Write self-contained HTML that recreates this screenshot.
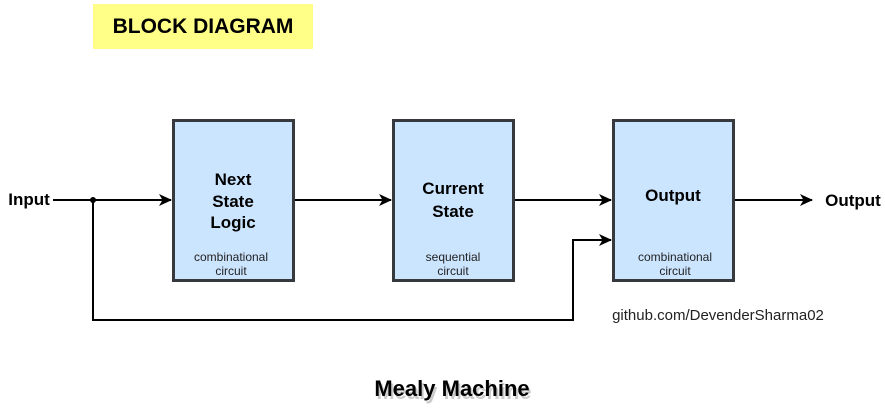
<!DOCTYPE html>
<html><head><meta charset="utf-8"><style>
body{margin:0;background:#fff;}
svg text{font-family:"Liberation Sans",Arial,sans-serif;}
</style></head><body>
<svg width="885" height="413" viewBox="0 0 885 413" xmlns="http://www.w3.org/2000/svg">
<defs><marker id="a" markerWidth="13" markerHeight="12" refX="12" refY="6" orient="auto" markerUnits="userSpaceOnUse"><path d="M0,0 L13,6 L0,12 L3.5,6 z" fill="#000"/></marker></defs>
<rect x="93" y="4" width="220" height="45" fill="#ffff88"/>
<text x="203" y="33" font-size="21" font-weight="bold" text-anchor="middle">BLOCK DIAGRAM</text>
<g fill="#cce5ff" stroke="#36393d" stroke-width="3">
<rect x="173.5" y="120.5" width="120" height="160"/>
<rect x="393.5" y="120.5" width="120" height="160"/>
<rect x="613.5" y="120.5" width="120" height="160"/>
</g>
<g stroke="#000" stroke-width="2" fill="none">
<path d="M53 200 H171" marker-end="url(#a)"/>
<path d="M295 200 H391" marker-end="url(#a)"/>
<path d="M515 200 H611" marker-end="url(#a)"/>
<path d="M735 200 H812" marker-end="url(#a)"/>
<path d="M93 200 V320 H573 V240 H611" marker-end="url(#a)"/>
</g>
<circle cx="93" cy="200" r="3" fill="#000"/>
<g font-weight="bold" font-size="17" text-anchor="middle">
<text x="29" y="205">Input</text>
<text x="233" y="185">Next</text>
<text x="233" y="207">State</text>
<text x="233" y="228">Logic</text>
<text x="453" y="194">Current</text>
<text x="453" y="217">State</text>
<text x="673" y="201">Output</text>
<text x="853" y="206">Output</text>
</g>
<g font-size="12" text-anchor="middle" fill="#222">
<text x="231" y="261">combinational</text><text x="231" y="275">circuit</text>
<text x="453" y="261">sequential</text><text x="453" y="275">circuit</text>
<text x="675" y="261">combinational</text><text x="675" y="275">circuit</text>
</g>
<text x="718" y="320" font-size="15" text-anchor="middle" fill="#222">github.com/DevenderSharma02</text>
<text x="453" y="397" font-size="22" font-weight="bold" text-anchor="middle" fill="#ccc" transform="translate(1,2)">Mealy Machine</text>
<text x="452" y="396" font-size="22" font-weight="bold" text-anchor="middle">Mealy Machine</text>
</svg>
</body></html>
